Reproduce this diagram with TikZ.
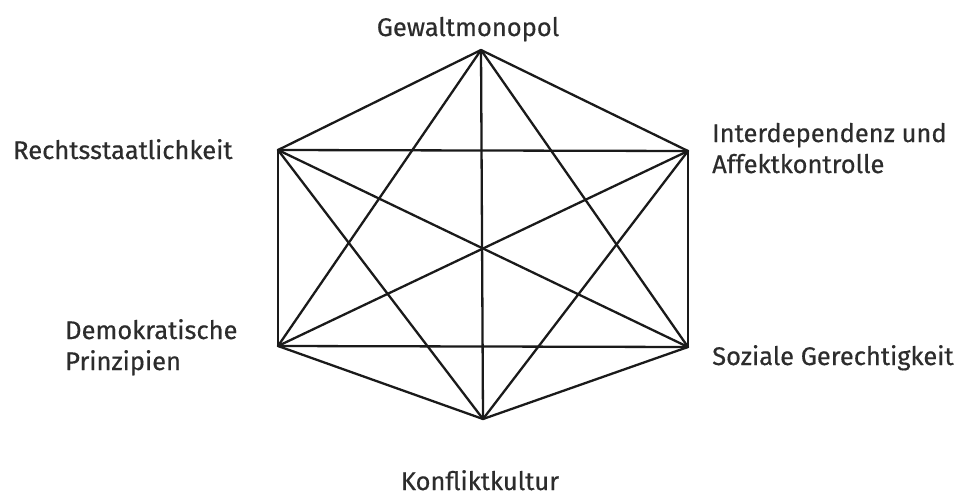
\documentclass[tikz,border=0pt]{standalone}
\usepackage{fontspec}
\setmainfont{Fira Sans}
\newfontfamily\labfont{Fira Sans}[FakeBold=0.5]
\definecolor{txt}{HTML}{2C2C2C}
\definecolor{ln}{HTML}{1A1A1A}
\begin{document}
\begin{tikzpicture}[x=1pt,y=-1pt,
  lab/.style={inner sep=0pt,text=txt,font=\labfont\fontsize{25.5}{31}\selectfont,align=left},
  edge/.style={draw=ln,line width=2.3pt,line cap=round,line join=round}]
\useasboundingbox (0,0) rectangle (955,495);
\coordinate (T) at (481,50);
\coordinate (UR) at (688,151);
\coordinate (LR) at (688,347);
\coordinate (B) at (483,419);
\coordinate (LL) at (278,346);
\coordinate (UL) at (278,150);
\foreach \a/\b in {T/UR,UR/LR,LR/B,B/LL,LL/UL,UL/T,T/B,UL/LR,UR/LL,T/LL,T/LR,UL/UR,LL/LR,UL/B,UR/B}
  \draw[edge] (\a) -- (\b);
\node[lab,anchor=base] (gm) at (468,36) {Gewaltmonopol};
\node[lab,anchor=base west] (rs) at (13,159) {Rechtsstaatlichkeit};
\node[lab,anchor=base west] (ia) at (712,173) {Interdependenz und\\Affektkontrolle};
\node[lab,anchor=base west] (dp) at (65,370) {Demokratische\\Prinzipien};
\node[lab,anchor=base west] (sg) at (712,365) {Soziale Gerechtigkeit};
\node[lab,anchor=base] (kk) at (480,490) {Konfliktkultur};
\end{tikzpicture}
\end{document}
